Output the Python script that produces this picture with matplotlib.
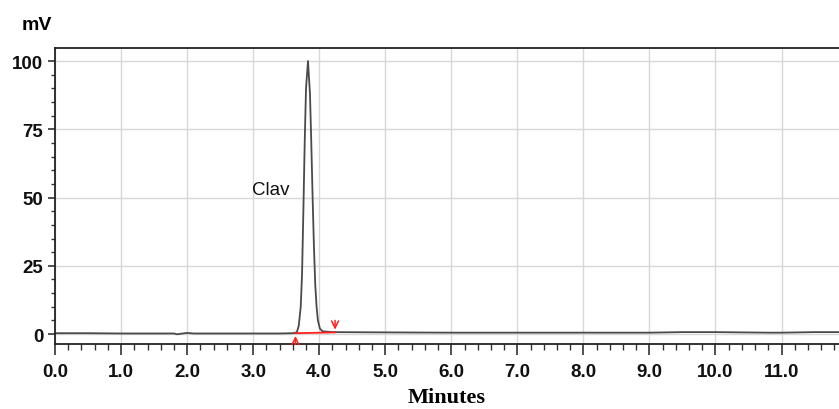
import numpy as np
import matplotlib
matplotlib.use('Agg')
import matplotlib.pyplot as plt
from matplotlib.ticker import MultipleLocator, FormatStrFormatter

# chromatogram trace (minutes, mV)
time = [0.0, 0.5, 1.0, 1.5, 1.8, 1.85, 1.9, 2.0, 2.1, 2.5, 3.0, 3.4, 3.60, 3.66, 3.69, 3.72,
        3.74, 3.76, 3.78, 3.80, 3.83, 3.86, 3.88, 3.90, 3.92, 3.94, 3.96, 3.98, 4.01, 4.05,
        4.2, 5.0, 6.0, 7.0, 8.0, 9.0, 9.5, 10.0, 10.8, 11.0, 11.5, 11.9]
signal = [0.3, 0.3, 0.2, 0.2, 0.2, -0.1, 0.1, 0.4, 0.2, 0.2, 0.2, 0.2, 0.3, 0.6, 3, 10,
          22, 45, 70, 90, 100, 88, 70, 50, 32, 18, 10, 5, 2, 1.0,
          0.7, 0.6, 0.5, 0.5, 0.5, 0.5, 0.7, 0.7, 0.5, 0.5, 0.7, 0.7]

base_t = [3.64, 4.24]
base_v = [0.3, 0.6]
peak_name = 'Clav'
peak_label_pos = (3.27, 53)

fig = plt.figure(figsize=(8.39, 4.10), dpi=100)
ax = fig.add_axes([0.0656, 0.1585, 0.9344, 0.722])

ax.plot(time, signal, color='#4a4a4a', lw=1.3)
ax.plot(base_t, base_v, color='#ff2020', lw=1.3)
ax.annotate('', xy=(base_t[0], base_v[0]), xytext=(base_t[0], -4.8),
            arrowprops=dict(arrowstyle='->,head_length=0.5,head_width=0.25', color='#ff2020', lw=1.1),
            annotation_clip=False)
ax.annotate('', xy=(base_t[1], base_v[1]), xytext=(base_t[1], 6.0),
            arrowprops=dict(arrowstyle='->,head_length=0.5,head_width=0.25', color='#ff2020', lw=1.1),
            annotation_clip=False)
ax.text(peak_label_pos[0], peak_label_pos[1], peak_name, fontsize=13.5,
        family='Liberation Sans', color='#111111', ha='center', va='center')

ax.set_xlim(0, 11.87)
ax.set_ylim(-3.66, 104.8)
ax.xaxis.set_major_locator(MultipleLocator(1.0))
ax.xaxis.set_minor_locator(MultipleLocator(0.2))
ax.xaxis.set_major_formatter(FormatStrFormatter('%.1f'))
ax.yaxis.set_major_locator(MultipleLocator(25))
ax.yaxis.set_minor_locator(MultipleLocator(5))
ax.grid(True, which='major', color='#d8d8d8', lw=1)
ax.set_axisbelow(True)

ax.spines['right'].set_visible(False)
for s in ['left', 'top', 'bottom']:
    ax.spines[s].set_color('#222222')
    ax.spines[s].set_linewidth(1.3)

ax.tick_params(axis='x', which='major', length=8, width=1.2, direction='out', color='#333333', pad=6)
ax.tick_params(axis='x', which='minor', length=4, width=1, direction='out', color='#333333')
ax.tick_params(axis='y', which='major', length=5, width=1.2, direction='out', color='#333333')
ax.tick_params(axis='y', which='minor', length=3, width=1, direction='out', color='#333333')
for lab in ax.get_xticklabels() + ax.get_yticklabels():
    lab.set_family('Liberation Sans')
    lab.set_fontweight('bold')
    lab.set_fontsize(13.5)
    lab.set_color('#111111')

ax.set_xlabel('Minutes', family='Liberation Serif', fontweight='bold', fontsize=16, labelpad=5)
fig.text(0.044, 0.937, 'mV', family='Liberation Sans', fontweight='bold', fontsize=14,
         ha='center', va='center')

fig.savefig('out.png', dpi=100)
